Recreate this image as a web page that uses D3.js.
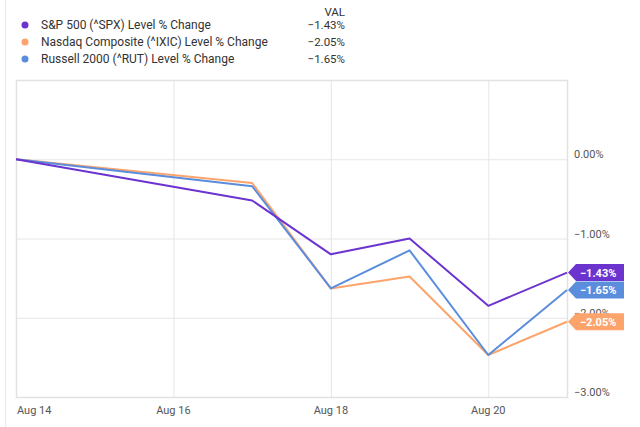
<!DOCTYPE html>
<html>
<head>
<meta charset="utf-8">
<script src="https://cdn.jsdelivr.net/npm/d3@7"></script>
<style>
  body { margin: 0; background: #fff; }
  svg { font-family: Roboto, 'Open Sans', sans-serif; }
</style>
</head>
<body>
<div id="chart"></div>
<script>
// 数据
const dates = ['2020-08-14', '2020-08-17', '2020-08-18', '2020-08-19', '2020-08-20', '2020-08-21'];
const spx = [0, -0.52, -1.2, -1.0, -1.85, -1.43];
const ixic = [0, -0.3, -1.63, -1.48, -2.47, -2.05];
const rut = [0, -0.34, -1.63, -1.15, -2.47, -1.65];
const seriesNames = ['S&P 500 (^SPX) Level % Change', 'Nasdaq Composite (^IXIC) Level % Change', 'Russell 2000 (^RUT) Level % Change'];
const seriesColors = ['#6c34cf', '#fda46c', '#5b8ddd'];
const xTickDates = ['2020-08-14', '2020-08-16', '2020-08-18', '2020-08-20'];
const xTickLabels = ['Aug 14', 'Aug 16', 'Aug 18', 'Aug 20'];
const yTicks = [0, -1, -2, -3];

const W = 640, H = 427;
const plot = { left: 16, right: 567, top: 80, bottom: 397 };
const parse = d3.timeParse('%Y-%m-%d');
const fmt = (v) => d3.format('.2f')(v) + '%';

const svg = d3.select('#chart').append('svg').attr('width', W).attr('height', H);

const x = d3.scaleTime()
  .domain([parse('2020-08-14'), parse('2020-08-21')])
  .range([plot.left, plot.right]);
const y = d3.scaleLinear().domain([-3, 1]).range([plot.bottom, plot.top]);

// 卡片左边框
svg.append('line')
  .attr('x1', 5.5).attr('x2', 5.5).attr('y1', 0).attr('y2', H)
  .attr('stroke', '#e8e8e8');

// 网格
const gridX = svg.append('g')
  .attr('transform', `translate(0,${plot.bottom})`)
  .call(d3.axisBottom(x).tickValues(xTickDates.map(parse)).tickSize(-(plot.bottom - plot.top)).tickFormat(''));
gridX.selectAll('line').attr('stroke', '#e6e6e6');
gridX.select('.domain').remove();

const gridY = svg.append('g')
  .attr('transform', `translate(${plot.left},0)`)
  .call(d3.axisLeft(y).tickValues(yTicks).tickSize(-(plot.right - plot.left)).tickFormat(''));
gridY.selectAll('line').attr('stroke', '#e6e6e6');
gridY.select('.domain').remove();

svg.append('rect')
  .attr('x', plot.left + 0.5).attr('y', plot.top + 0.5)
  .attr('width', plot.right - plot.left).attr('height', plot.bottom - plot.top)
  .attr('fill', 'none').attr('stroke', '#e2e2e2').attr('stroke-width', 1.5);

// x 轴标签
svg.append('g').selectAll('text')
  .data(xTickDates)
  .enter()
  .append('text')
  .attr('x', (d, i) => i === 0 ? plot.left + 1 : x(parse(d)))
  .attr('y', 414)
  .attr('text-anchor', (d, i) => i === 0 ? 'start' : 'middle')
  .attr('font-size', 11)
  .attr('fill', '#555')
  .text((d, i) => xTickLabels[i]);

// y 轴标签
svg.append('g').selectAll('text')
  .data(yTicks)
  .enter()
  .append('text')
  .attr('x', plot.right + 7)
  .attr('y', (d) => y(d) - 1)
  .attr('font-size', 11)
  .attr('fill', '#555')
  .text((d) => fmt(d));

// 折线
const allSeries = [spx, ixic, rut];
const line = d3.line()
  .x((d, i) => x(parse(dates[i])))
  .y((d) => y(d));

[1, 2, 0].forEach((k) => {
  svg.append('path')
    .datum(allSeries[k])
    .attr('fill', 'none')
    .attr('stroke', seriesColors[k])
    .attr('stroke-width', 2)
    .attr('stroke-linejoin', 'round')
    .attr('d', line);
});

// 右侧末值标签
const last = dates.length - 1;
const tagG = svg.append('g');
[0, 2, 1].forEach((k) => {
  const v = allSeries[k][last];
  const ty = y(v);
  const tx = x(parse(dates[last])) + 1;
  const h = 17, w = 56;
  tagG.append('path')
    .attr('d', `M${tx},${ty} L${tx + 8},${ty - h / 2} L${tx + w},${ty - h / 2} L${tx + w},${ty + h / 2} L${tx + 8},${ty + h / 2} Z`)
    .attr('fill', seriesColors[k]);
  tagG.append('text')
    .attr('x', tx + 12)
    .attr('y', ty + 4)
    .attr('font-size', 11)
    .attr('font-weight', 'bold')
    .attr('fill', '#fff')
    .text(fmt(v));
});

// 图例
const legend = svg.append('g');
legend.append('text')
  .attr('x', 345).attr('y', 16)
  .attr('text-anchor', 'end')
  .attr('font-size', 11.5)
  .attr('fill', '#333')
  .text('VAL');

const rows = legend.selectAll('g.row')
  .data(seriesNames)
  .enter()
  .append('g')
  .attr('class', 'row')
  .attr('transform', (d, i) => `translate(0,${25 + i * 17})`);

rows.append('circle')
  .attr('cx', 25).attr('cy', 0).attr('r', 3.5)
  .attr('fill', (d, i) => seriesColors[i]);

rows.append('text')
  .attr('x', 41).attr('y', 4)
  .attr('font-size', 12)
  .attr('fill', '#333')
  .text((d) => d);

rows.append('text')
  .attr('x', 345).attr('y', 4)
  .attr('text-anchor', 'end')
  .attr('font-size', 11.5)
  .attr('fill', '#333')
  .text((d, i) => fmt(allSeries[i][last]));
</script>
</body>
</html>
